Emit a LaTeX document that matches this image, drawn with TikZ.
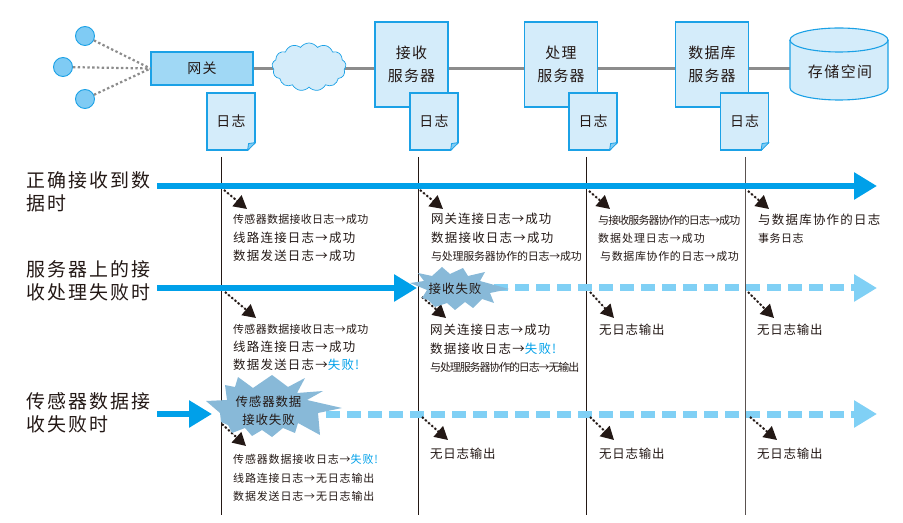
\documentclass[tikz,border=0pt]{standalone}
\usepackage{fontspec}
\setmainfont{Noto Sans CJK SC}
\usetikzlibrary{arrows.meta,shapes.symbols}
\definecolor{edgeblue}{HTML}{1BA1E6}
\definecolor{paleblue}{HTML}{D4ECFA}
\definecolor{midblue}{HTML}{A0D8F5}
\definecolor{dotblue}{HTML}{7FCBF4}
\definecolor{arrowblue}{HTML}{00A0E9}
\definecolor{dashblue}{HTML}{80D0F5}
\definecolor{burstblue}{HTML}{88B9D8}
\definecolor{inkblack}{HTML}{231815}
\definecolor{wiregray}{HTML}{8C8C8C}
\newcommand\lsp[2]{{\addfontfeature{LetterSpace=#1}#2}}
\newcommand\fail[1]{\textcolor{arrowblue}{#1}}
\tikzset{
  every node/.style={text=inkblack,inner sep=0pt},
  wire/.style={draw=wiregray,line width=2.2bp},
  dotwire/.style={draw=wiregray,line width=2.2bp,dash pattern=on 2.4bp off 2.4bp},
  vline/.style={draw=inkblack,line width=0.9bp},
  sensor/.style={circle,draw=edgeblue,fill=dotblue,line width=0.9bp,minimum size=19bp},
  gatebox/.style={rectangle,draw=edgeblue,fill=midblue,line width=1.1bp,minimum width=102bp,minimum height=33bp,font=\fontsize{14}{16}\selectfont},
  srvbox/.style={rectangle,draw=edgeblue,fill=paleblue,line width=1.1bp,minimum width=73bp,minimum height=85bp,align=center,font=\fontsize{15}{23}\selectfont},
  logbox/.style={rectangle,draw=edgeblue,fill=paleblue,line width=1.1bp,minimum width=48bp,minimum height=57bp,font=\fontsize{14}{16}\selectfont},
  logfold/.style={fill=dotblue,draw=edgeblue,line width=0.8bp,line join=round},
  cyl/.style={fill=paleblue,draw=edgeblue,line width=1.1bp},
  bigarrow/.style={draw=arrowblue,line width=6.5bp,-{Triangle[length=23bp,width=26bp]}},
  dasharrow/.style={draw=dashblue,line width=7bp,dash pattern=on 14bp off 7bp,-{Triangle[length=23bp,width=26bp]}},
  dotarrow/.style={draw=inkblack,fill=inkblack,line width=2bp,dash pattern=on 2bp off 2.2bp,-{Triangle[length=13bp,width=14bp]}},
  burst/.style={fill=burstblue,draw=none},
  rowlabel/.style={anchor=west,align=left,font=\fontsize{19}{23}\selectfont},
  logline/.style={anchor=west,font=\fontsize{11}{13}\selectfont},
  bigline/.style={anchor=west,font=\fontsize{12.5}{14}\selectfont},
  bursttext/.style={font=\fontsize{12.5}{18}\selectfont,align=center}
}
\begin{document}
\begin{tikzpicture}[x=1bp,y=-1bp]
\useasboundingbox (0,0) rectangle (903,523);
% sensors, gateway, network
\node[gatebox] (gw) at (202,68.5) {\lsp{10}{网关}};
\node[sensor] (c1) at (85,36) {};
\node[sensor] (c2) at (63,67) {};
\node[sensor] (c3) at (85,99) {};
\draw[dotwire] (c1) -- (gw.west);
\draw[dotwire] (c2) -- (gw.west);
\draw[dotwire] (c3) -- (gw.west);
\node[minimum width=98bp,minimum height=72bp] (st) at (839,64) {};
\draw[wire] (gw.east) -- (st.center |- gw.east);
\node[srvbox] (s1) at (411.5,64.5) {\raisebox{2bp}{\lsp{8}{接收}}\\\raisebox{2bp}{\lsp{8}{服务器}}};
\node[srvbox] (s2) at (561,64.5) {\raisebox{2bp}{\lsp{8}{处理}}\\\raisebox{2bp}{\lsp{8}{服务器}}};
\node[srvbox] (s3) at (712,64.5) {\raisebox{2bp}{\lsp{8}{数据库}}\\\raisebox{2bp}{\lsp{8}{服务器}}};
\path[cyl] (790,40) -- (790,88) arc[start angle=180,end angle=360,x radius=49bp,y radius=12bp] -- (888,40) arc[start angle=0,end angle=180,x radius=49bp,y radius=12bp] -- cycle;
\draw[cyl,fill=none] (790,40) arc[start angle=180,end angle=360,x radius=49bp,y radius=12bp];
\node at (840,72) {\fontsize{15}{18}\selectfont\lsp{10}{存储空间}};
\node[cloud,cloud puffs=13,cloud puff arc=110,aspect=1.55,draw=edgeblue,fill=paleblue,line width=0.7bp,minimum width=74bp,minimum height=48bp] (net) at (309,67) {};
% log sheets
\foreach \n/\xc in {l1/231,l2/434,l3/593,l4/744.5}{
  \node[logbox] (\n) at (\xc,121.5) {\lsp{8}{日志}};
  \fill[white] (\n.south east) ++(-8,0.8) -- ++(8.8,0) -- ++(0,-8.8) -- cycle;
  \draw[logfold] (\n.south east) ++(-8,0) -- ++(1,-7) -- ++(7,-1) -- cycle;
}
% vertical time lines
\coordinate (v1a) at (221,157); \coordinate (v1b) at (221,515);
\coordinate (v2a) at (418,157); \coordinate (v2b) at (418,515);
\coordinate (v3a) at (586.5,157); \coordinate (v3b) at (586.5,515);
\coordinate (v4a) at (745,157); \coordinate (v4b) at (745,515);
\draw[vline] (v1a) -- (v1b);
\draw[vline] (v2a) -- (v2b);
\draw[vline] (v3a) -- (v3b);
\draw[vline,draw=inkblack!75] (v4a) -- (v4b);
% row labels
\node[rowlabel] (r1) at (26,192) {\lsp{11}{正确接收到数}\\\lsp{11}{据时}};
\node[rowlabel] (r2) at (26,281) {\lsp{11}{服务器上的接}\\\lsp{11}{收处理失败时}};
\node[rowlabel] (r3) at (26,413) {\lsp{11}{传感器数据接}\\\lsp{11}{收失败时}};
% main arrows
\coordinate (a1a) at (157,186); \coordinate (a1b) at (877,186);
\coordinate (a2a) at (157,288); \coordinate (a2b) at (417,288);
\coordinate (a3a) at (157,414); \coordinate (a3b) at (212,414);
\coordinate (b2a) at (494,288); \coordinate (b2b) at (877,288);
\coordinate (b3a) at (326,414); \coordinate (b3b) at (877,414);
\draw[dasharrow] (b2a) -- (b2b);
\draw[dasharrow] (b3a) -- (b3b);
\draw[bigarrow] (a1a) -- (a1b);
\draw[bigarrow] (a2a) -- (a2b);
\draw[bigarrow] (a3a) -- (a3b);
% dotted arrows
\coordinate (d11a) at (224,190); \coordinate (d11b) at (247,209);
\coordinate (d12a) at (420,190); \coordinate (d12b) at (443,209);
\coordinate (d13a) at (589,191); \coordinate (d13b) at (610,209);
\coordinate (d14a) at (748,191); \coordinate (d14b) at (769,209);
\coordinate (d21a) at (225,292); \coordinate (d21b) at (256,318);
\coordinate (d22a) at (422,297); \coordinate (d22b) at (446,318);
\coordinate (d23a) at (590,292); \coordinate (d23b) at (614,318);
\coordinate (d24a) at (748,292); \coordinate (d24b) at (774,318);
\coordinate (d31a) at (222,424); \coordinate (d31b) at (246,446);
\coordinate (d32a) at (422,417); \coordinate (d32b) at (448,440);
\coordinate (d33a) at (590,417); \coordinate (d33b) at (614,440);
\coordinate (d34a) at (750,417); \coordinate (d34b) at (777,440);
\draw[dotarrow] (d11a) -- (d11b);
\draw[dotarrow] (d12a) -- (d12b);
\draw[dotarrow] (d13a) -- (d13b);
\draw[dotarrow] (d14a) -- (d14b);
\draw[dotarrow] (d21a) -- (d21b);
\draw[dotarrow] (d22a) -- (d22b);
\draw[dotarrow] (d23a) -- (d23b);
\draw[dotarrow] (d24a) -- (d24b);
\draw[dotarrow] (d31a) -- (d31b);
\draw[dotarrow] (d32a) -- (d32b);
\draw[dotarrow] (d33a) -- (d33b);
\draw[dotarrow] (d34a) -- (d34b);
% bursts
\fill[burst] (418,273) -- (432,276) -- (442,267) -- (450,274) -- (463,268) -- (468,276) -- (485,272) -- (480,281) -- (509,289) -- (490,293) -- (494,303) -- (482,299) -- (473,308) -- (465,302) -- (455,310) -- (447,303) -- (435,307) -- (428,300) -- (422,298) -- (427,290) -- (410,283) -- (424,281) -- cycle;
\fill[burst] (225,385) -- (235,387) -- (238,377) -- (253,388) -- (272,375) -- (288,387) -- (305,378) -- (297,393) -- (323,391) -- (307,400) -- (342,408) -- (318,413) -- (320,435) -- (298,423) -- (295,433) -- (283,428) -- (272,437) -- (262,430) -- (252,436) -- (245,428) -- (232,433) -- (228,425) -- (221,422) -- (220,413) -- (206,401) -- (227,400) -- cycle;
\node[bursttext] (bt1) at (455,289) {\lsp{8}{接收失败}};
\node[bursttext] (bt2) at (268.5,411) {\lsp{7}{传感器数据}\\\lsp{7}{接收失败}};
% log texts, row 1
\node[logline] (t111) at (233,219) {\lsp{3}{传感器数据接收日志→成功}};
\node[bigline] (t112) at (233,238) {\lsp{10}{线路连接日志→成功}};
\node[bigline] (t113) at (233,256) {\lsp{10}{数据发送日志→成功}};
\node[bigline] (t121) at (431,219) {\lsp{8}{网关连接日志→成功}};
\node[bigline] (t122) at (431,238) {\lsp{10}{数据接收日志→成功}};
\node[logline] (t123) at (431,256) {\lsp{-2}{与处理服务器协作的日志→成功}};
\node[logline] (t131) at (598,220) {\lsp{-8}{与接收服务器协作的日志→成功}};
\node[logline] (t132) at (598,238) {\lsp{9}{数据处理日志→成功}};
\node[logline] (t133) at (600,256) {\lsp{6}{与数据库协作的日志→成功}};
\node[bigline] (t141) at (758,220) {\lsp{10}{与数据库协作的日志}};
\node[logline] (t142) at (758,238) {\lsp{5}{事务日志}};
% row 2
\node[logline] (t211) at (233,329) {\lsp{3}{传感器数据接收日志→成功}};
\node[bigline] (t212) at (233,347) {\lsp{10}{线路连接日志→成功}};
\node[bigline] (t213) at (233,365) {\lsp{10}{数据发送日志→\fail{失败!}}};
\node[bigline] (t221) at (430,330) {\lsp{8}{网关连接日志→成功}};
\node[bigline] (t222) at (430,349) {\lsp{10}{数据接收日志→\fail{失败!}}};
\node[logline] (t223) at (430,367) {\lsp{-10}{与处理服务器协作的日志→无输出}};
\node[bigline] (t231) at (599,330) {\lsp{6}{无日志输出}};
\node[bigline] (t241) at (757,330) {\lsp{6}{无日志输出}};
% row 3
\node[logline] (t311) at (233,459) {\lsp{8}{传感器数据接收日志→\fail{失败!}}};
\node[logline] (t312) at (233,478) {\lsp{8}{线路连接日志→无日志输出}};
\node[logline] (t313) at (233,496) {\lsp{8}{数据发送日志→无日志输出}};
\node[bigline] (t321) at (430,454) {\lsp{6}{无日志输出}};
\node[bigline] (t331) at (599,454) {\lsp{6}{无日志输出}};
\node[bigline] (t341) at (757,454) {\lsp{6}{无日志输出}};
\end{tikzpicture}
\end{document}
